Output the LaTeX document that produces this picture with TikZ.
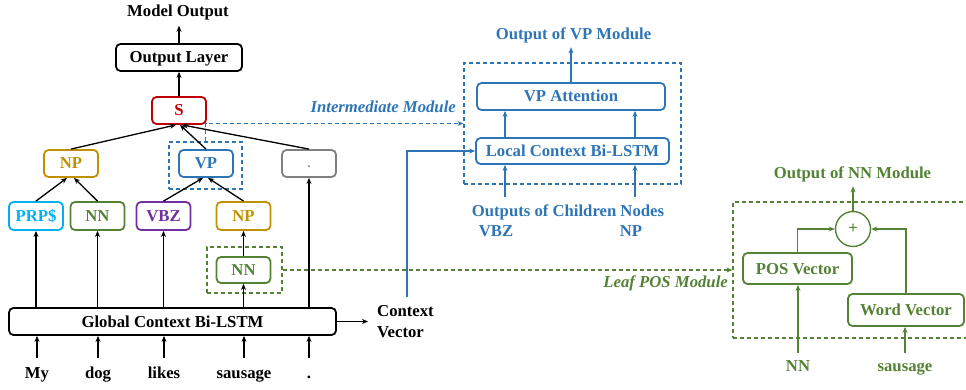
\documentclass[tikz,border=0pt]{standalone}
\usepackage{fontspec}
\setmainfont{Liberation Serif}
\usetikzlibrary{arrows.meta}
\definecolor{cblue}{RGB}{46,117,182}
\definecolor{cgreen}{RGB}{84,130,53}
\definecolor{cgold}{RGB}{191,144,0}
\definecolor{cred}{RGB}{192,0,0}
\definecolor{cpurple}{RGB}{112,48,160}
\definecolor{ccyan}{RGB}{0,176,240}
\definecolor{cgray}{RGB}{128,128,128}
\tikzset{
  lbl/.style={font=\fontsize{16.7}{21}\selectfont\bfseries, inner sep=0pt},
  ital/.style={font=\fontsize{16.7}{21}\selectfont\bfseries\itshape, inner sep=0pt},
  word/.style={lbl, text height=11.5pt, text depth=3.5pt},
  box/.style={lbl, draw, line width=1.8pt, rounded corners=4.5pt,
              text height=11pt, text depth=0pt,
              minimum height=27pt, minimum width=54pt},
  dbox/.style={draw, line width=1.2pt, dash pattern=on 4pt off 3pt, inner sep=0pt},
  arr/.style={line width=1.3pt, -{Stealth[length=6pt,width=5pt]}},
  darr/.style={line width=1.2pt, dash pattern=on 4pt off 3pt,
               -{Stealth[length=6pt,width=5pt]}},
}
\begin{document}
\begin{tikzpicture}[x=1pt,y=-1pt]
\useasboundingbox (0,0) rectangle (966,390);

% ---------- main parse tree ----------
\node[lbl] (mout) at (178,12.5) {Model Output};
\node[box, minimum width=126pt] (outl) at (179,57.5) {Output Layer};
\node[box, draw=cred, text=cred] (S) at (179,110.5) {S};
\node[box, draw=cgold, text=cgold] (NPa) at (71,163.5) {NP};
\node[box, draw=cblue, text=cblue] (VP) at (206,163.5) {VP};
\node[box, draw=cgray, text=cgray, text height=8pt,
      font=\fontsize{12}{14}\selectfont\bfseries] (dot) at (309,163.5) {.};
\node[box, draw=ccyan, text=ccyan, minimum height=28pt] (PRP) at (36,216) {PRP\$};
\node[box, draw=cgreen, text=cgreen, minimum height=28pt] (NNa) at (97.5,216) {NN};
\node[box, draw=cpurple, text=cpurple, minimum height=28pt] (VBZ) at (163.5,216) {VBZ};
\node[box, draw=cgold, text=cgold, minimum height=28pt] (NPb) at (243.5,216) {NP};
\node[box, draw=cgreen, text=cgreen, minimum height=26pt] (NNl) at (243.5,270) {NN};
\node[box, minimum width=327pt] (glob) at (172.5,321.5) {Global Context Bi-LSTM};

% dashed markers around the nodes handled by the modules
\node[dbox, draw=cblue, minimum width=73pt, minimum height=47pt] (vpmark) at (205.5,165.5) {};
\node[dbox, draw=cgreen, minimum width=75pt, minimum height=46pt] (nnmark) at (244.5,270) {};

% input words
\node[word] (w1) at (37,374.5) {My};
\node[word] (w2) at (98,374.5) {dog};
\node[word] (w3) at (164,374.5) {likes};
\node[word] (w4) at (244,374.5) {sausage};
\node[word] (w5) at (309,374.5) {.};
\foreach \w in {w1,w2,w3,w4,w5}
  \draw[arr] ([yshift=9pt]\w.north) -- (\w.north |- glob.south);

% global Bi-LSTM to leaves
\draw[arr] (glob.north -| PRP) -- (PRP.south);
\draw[arr] (glob.north -| NNa) -- (NNa.south);
\draw[arr] (glob.north -| VBZ) -- (VBZ.south);
\draw[arr] (glob.north -| NNl) -- (NNl.south);
\draw[arr] (glob.north -| dot) -- (dot.south);
\draw[arr] (NNl.north) -- (NPb.south);

% tree edges
\draw[arr] (PRP.north) -- ([xshift=-4pt]NPa.south);
\draw[arr] (NNa.north) -- ([xshift=3pt]NPa.south);
\draw[arr] (VBZ.north) -- ([xshift=-3pt]VP.south);
\draw[arr] (NPb.north) -- ([xshift=2pt]VP.south);
\draw[arr] (NPa.north) -- ([xshift=-3pt]S.south);
\draw[arr] (VP.north) -- ([xshift=1pt]S.south);
\draw[arr] (dot.north) -- ([xshift=3pt]S.south);
\draw[arr] (S.north) -- (outl.south);
\draw[arr, shorten >=5.5pt] (outl.north) -- (outl.north |- mout.south);

% context vector
\node[lbl, align=left, anchor=west] (ctx) at (377,321.5) {Context\\Vector};
\draw[arr] (glob.east) -- ([xshift=-9pt]ctx.west);

% ---------- intermediate (VP) module ----------
\node[dbox, draw=cblue, minimum width=217pt, minimum height=121pt] (vpmod) at (572.5,123.5) {};
\node[box, draw=cblue, text=cblue, minimum width=188pt] (att) at (571,96.5) {VP Attention};
\node[box, draw=cblue, text=cblue, minimum width=193pt, minimum height=26pt] (loc) at (572.5,151) {Local Context Bi-LSTM};
\node[lbl, text=cblue] (vpout) at (573.5,35.5) {Output of VP Module};
\draw[arr, cblue, shorten >=4pt] (att.north) -- (att.north |- vpout.south);
\coordinate (ka) at (505,197);
\coordinate (kb) at (635,197);
\draw[arr, cblue] (loc.north -| ka) -- (att.south -| ka);
\draw[arr, cblue] (loc.north -| kb) -- (att.south -| kb);
\draw[arr, cblue] (ka) -- (loc.south -| ka);
\draw[arr, cblue] (kb) -- (loc.south -| kb);
\node[lbl, text=cblue] (chl) at (568,212.5) {Outputs of Children Nodes};
\node[lbl, text=cblue] (chv) at (496,231) {VBZ};
\node[lbl, text=cblue] (chn) at (631,231) {NP};

\node[ital, text=cblue, anchor=east] (imlab) at (456,107) {Intermediate Module};
\draw[darr, cblue] (vpmark.north) |- (vpmod.west);
\coordinate (cvtop) at (407,297);
\draw[arr, cblue] (cvtop) |- (loc.west);

% ---------- leaf POS module ----------
\node[dbox, draw=cgreen, minimum width=250pt, minimum height=136pt] (leafmod) at (858,270) {};
\node[ital, text=cgreen, anchor=east] (leaflab) at (728,283) {Leaf POS Module};
\draw[darr, cgreen] (nnmark.east) -- (leafmod.west);
\node[lbl, circle, draw=cgreen, text=cgreen, line width=1.4pt, minimum size=35pt] (plus) at (853,229) {+};
\node[box, draw=cgreen, text=cgreen, minimum width=109pt, minimum height=31pt] (pos) at (797.5,268.5) {POS Vector};
\node[box, draw=cgreen, text=cgreen, minimum width=116pt, minimum height=32pt] (wv) at (906,310) {Word Vector};
\node[lbl, text=cgreen] (nnout) at (852.5,174.5) {Output of NN Module};
\draw[arr, cgreen, shorten >=4pt] (plus.north) -- (plus.north |- nnout.south);
\draw[arr, cgreen] (pos.north) |- (plus.west);
\draw[arr, cgreen] (wv.north) |- (plus.east);
\node[word, text=cgreen] (lnn) at (798,367.5) {NN};
\node[word, text=cgreen] (lsau) at (905,367.5) {sausage};
\draw[arr, cgreen] ([yshift=7pt]lnn.north) -- (lnn.north |- pos.south);
\draw[arr, cgreen] ([yshift=7pt]lsau.north) -- (lsau.north |- wv.south);
\end{tikzpicture}
\end{document}
